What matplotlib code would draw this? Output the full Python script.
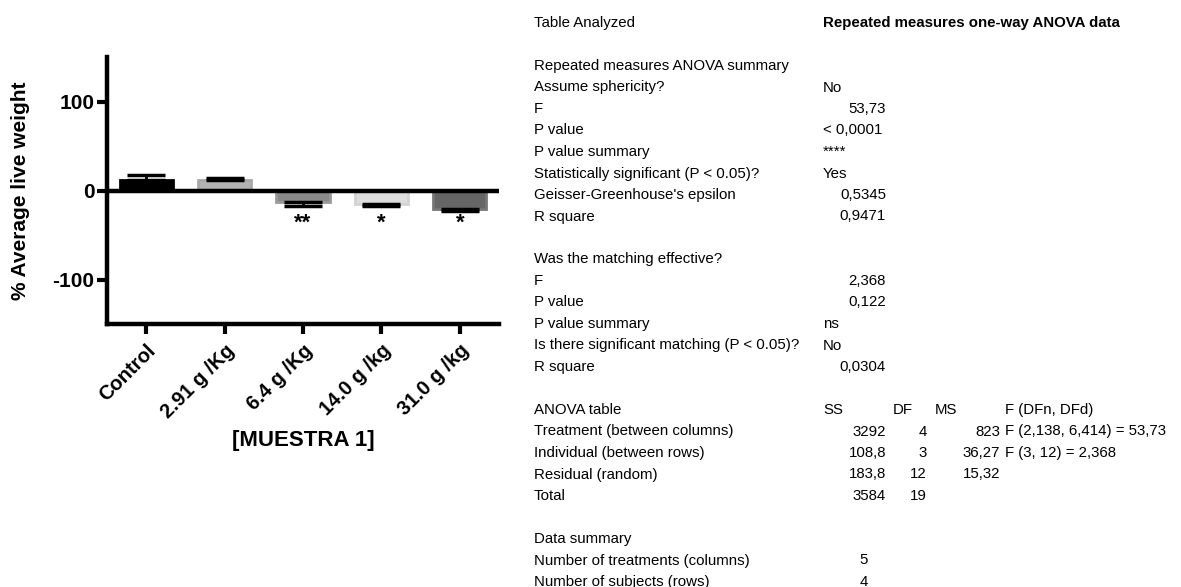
import matplotlib
matplotlib.use("Agg")
import matplotlib.pyplot as plt

plt.rcParams['font.family'] = ['Liberation Sans', 'DejaVu Sans']

# bar chart data (% average live weight, mean and one-sided error)
groups = ["Control", "2.91 g /Kg", "6.4 g /Kg", "14.0 g /kg", "31.0 g /kg"]
means = [12, 11.5, -13, -15, -21]
errors = [5, 2, 4, 2.5, 2]
stars = ["", "", "**", "*", "*"]
fills = ["#000000", "#b3b3b3", "#8a8a8a", "#dddddd", "#666666"]
edges = ["#000000", "#a8a8a8", "#9a9a9a", "#d2d2d2", "#777777"]

# ANOVA output rows: (row, label)
labels = [
    (0, "Table Analyzed"),
    (2, "Repeated measures ANOVA summary"),
    (3, "Assume sphericity?"),
    (4, "F"),
    (5, "P value"),
    (6, "P value summary"),
    (7, "Statistically significant (P < 0.05)?"),
    (8, "Geisser-Greenhouse's epsilon"),
    (9, "R square"),
    (11, "Was the matching effective?"),
    (12, "F"),
    (13, "P value"),
    (14, "P value summary"),
    (15, "Is there significant matching (P < 0.05)?"),
    (16, "R square"),
    (18, "ANOVA table"),
    (19, "Treatment (between columns)"),
    (20, "Individual (between rows)"),
    (21, "Residual (random)"),
    (22, "Total"),
    (24, "Data summary"),
    (25, "Number of treatments (columns)"),
    (26, "Number of subjects (rows)"),
]
values_left = [(3, "No"), (5, "< 0,0001"), (6, "****"), (7, "Yes"),
               (14, "ns"), (15, "No")]
values_right = [(4, "53,73"), (8, "0,5345"), (9, "0,9471"), (12, "2,368"),
                (13, "0,122"), (16, "0,0304")]
anova_head = ["SS", "DF", "MS", "F (DFn, DFd)"]
anova_ss = ["3292", "108,8", "183,8", "3584"]
anova_df = ["4", "3", "12", "19"]
anova_ms = ["823", "36,27", "15,32", ""]
anova_f = ["F (2,138, 6,414) = 53,73", "F (3, 12) = 2,368", "", ""]
summary_vals = [(25, "5"), (26, "4")]

W, H = 1181, 587
fig = plt.figure(figsize=(W / 100, H / 100), dpi=100)
ax = fig.add_axes([107 / W, 1 - 324 / H, (499 - 107) / W, (324 - 57) / H])

x = range(len(groups))
ax.bar(x, means, width=0.68, color=fills, edgecolor=edges, linewidth=2, zorder=2)
for i in x:
    lo = [0] if means[i] > 0 else [errors[i]]
    hi = [errors[i]] if means[i] > 0 else [0]
    ax.errorbar(i, means[i], yerr=[lo, hi], fmt="none", ecolor="black",
                elinewidth=2, capsize=14, capthick=2.5, zorder=3)
    if stars[i]:
        ax.text(i, -37, stars[i], ha="center", va="center", fontsize=16,
                fontweight="bold")
ax.axhline(0, color="black", linewidth=3.2, zorder=4)

ax.set_xlim(-0.5, 4.5)
ax.set_ylim(-150, 150)
ax.set_yticks([-100, 0, 100])
ax.set_yticklabels(["-100", "0", "100"], fontsize=15, fontweight="bold")
ax.set_xticks(list(x))
ax.set_xticklabels(groups, fontsize=14.5, fontweight="bold", rotation=45,
                   ha="right", rotation_mode="anchor")
ax.tick_params(axis="both", width=3, length=7, pad=2)
ax.tick_params(axis="x", pad=5)
for s in ["top", "right"]:
    ax.spines[s].set_visible(False)
for s in ["left", "bottom"]:
    ax.spines[s].set_linewidth(3.2)
ax.set_ylabel("% Average live weight", fontsize=15, fontweight="bold", labelpad=16)
ax.set_xlabel("[MUESTRA 1]", fontsize=16, fontweight="bold", labelpad=6)

# text table on the right
fs = 10.8


def ypos(row):
    return 1 - (22 + 21.5 * row + 5) / H


for row, txt in labels:
    fig.text(534 / W, ypos(row), txt, fontsize=fs, va="baseline")
fig.text(823 / W, ypos(0), "Repeated measures one-way ANOVA data", fontsize=fs,
         fontweight="bold", va="baseline")
for row, txt in values_left:
    fig.text(823 / W, ypos(row), txt, fontsize=fs, va="baseline")
for row, txt in values_right:
    fig.text(886 / W, ypos(row), txt, fontsize=fs, va="baseline", ha="right")
for hx, txt in zip([823, 893, 935, 1005], anova_head):
    fig.text(hx / W, ypos(18), txt, fontsize=fs, va="baseline")
for j in range(4):
    r = 19 + j
    fig.text(886 / W, ypos(r), anova_ss[j], fontsize=fs, va="baseline", ha="right")
    fig.text(927 / W, ypos(r), anova_df[j], fontsize=fs, va="baseline", ha="right")
    fig.text(1000 / W, ypos(r), anova_ms[j], fontsize=fs, va="baseline", ha="right")
    fig.text(1005 / W, ypos(r), anova_f[j], fontsize=fs, va="baseline")
for row, txt in summary_vals:
    fig.text(868 / W, ypos(row), txt, fontsize=fs, va="baseline", ha="right")

fig.savefig("out.png", dpi=100)
